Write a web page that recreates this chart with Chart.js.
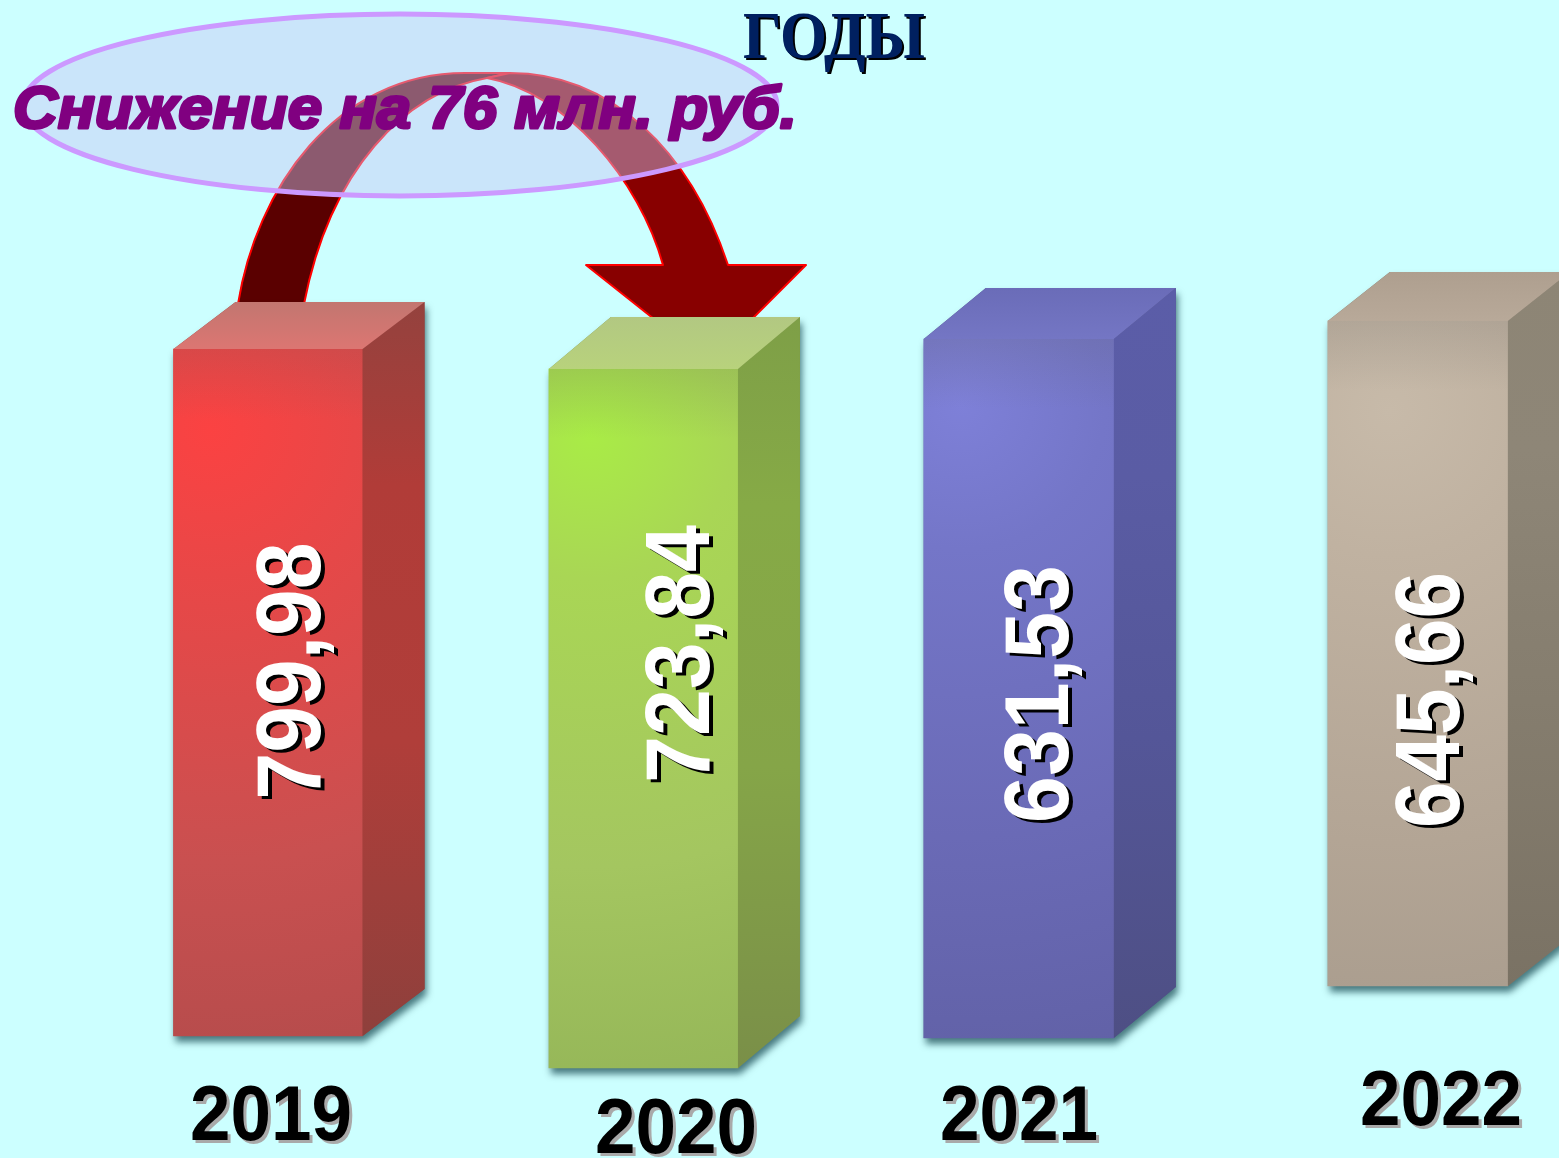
<!DOCTYPE html>
<html lang="ru">
<head>
<meta charset="utf-8">
<title>Годы</title>
<style>html,body{margin:0;padding:0;background:#ccffff}canvas{display:block}</style>
<script src="https://cdn.jsdelivr.net/npm/chart.js@4"></script>
</head>
<body>
<canvas id="c" width="1559" height="1158"></canvas>
<script>
// Data
const years = ['2019', '2020', '2021', '2022'];
const printedValues = ['799,98', '723,84', '631,53', '645,66'];
// The source's column extents are not proportional to the printed values and
// stand on different floors, so they are kept as floating ranges on the axis.
const barBases = [0, -37.3, -2.3, 58.2];
const barTops = [799.98, 776.7, 811.6, 832.6];
const barSlots = [0, 1, 2, 3.063];
const chartTitle = 'ГОДЫ';
const noteText = 'Снижение на 76 млн. руб.';

// Styles
const frontWidths = [189, 189, 190, 180];
const depthX = 62;
const depthY = [47, 52, 51, 49];
const styles = [
  {hot:[-58,81], stops:['#fb4242','#e94747','#c95050','#ad4a4a'], side:['#94423e','#b13c38','#b03e3a','#8e403c'], top:['#dc7672','#c27670']},
  {hot:[-54,66], stops:['#a9ec46','#a9d655','#a4c660','#91b256'], side:['#7e9f47','#86aa46','#85a548','#7a8f48'], top:['#b8d27c','#b2c882']},
  {hot:[-58,66], stops:['#7e80d8','#7476c8','#6a6ab6','#5f5fa3'], side:['#5b5da8','#5a5ca4','#545698','#4e4f84'], top:['#7476c4','#6a6cb8']},
  {hot:[-28,90], stops:['#c7baa9','#c0b2a1','#b3a595','#a4988a'], side:['#8d8575','#8e8677','#857d6e','#7a7264'], top:['#b8a999','#ae9f8f']}
];
const valueLabelPos = [[288,671,257],[677,654,258],[1036,694,258],[1427,700,256]];
const yearLabelPos = [[190,1140,162],[595,1153,162],[940,1140,158],[1360,1125,162]];

function frontFill(ctx) {
  const i = ctx.dataIndex, chart = ctx.chart;
  if (i === undefined || !chart.scales.x) return styles[0].stops[1];
  const cx = chart.scales.x.getPixelForValue(barSlots[i]) + styles[i].hot[0];
  const cy = chart.scales.y.getPixelForValue(barTops[i]) + styles[i].hot[1];
  if (!Number.isFinite(cx) || !Number.isFinite(cy)) return styles[i].stops[1];
  const g = chart.ctx.createRadialGradient(cx, cy, 0, cx, cy, 720);
  const s = styles[i].stops;
  g.addColorStop(0, s[0]); g.addColorStop(.2, s[1]); g.addColorStop(.6, s[2]); g.addColorStop(1, s[3]);
  return g;
}

function geom(el, i) {
  const p = el.getProps(['x','y','base','width'], true);
  return {l:p.x - p.width/2, r:p.x + p.width/2, t:p.y, b:p.base, dy:depthY[i]};
}

function fitText(c, text, x, y, width, font, fill, shadow, ox, oy, strokeW) {
  c.save();
  c.font = font;
  c.textBaseline = 'alphabetic'; c.textAlign = 'left';
  const w = c.measureText(text).width;
  c.translate(x, y);
  c.scale(width / w, 1);
  c.shadowColor = shadow; c.shadowBlur = 0; c.shadowOffsetX = ox; c.shadowOffsetY = oy;
  c.fillStyle = fill;
  if (strokeW) {
    c.lineJoin = 'round'; c.lineWidth = strokeW; c.strokeStyle = fill;
    c.strokeText(text, 0, 0);
  }
  c.fillText(text, 0, 0);
  c.restore();
}

function drawArrow(c) {
  c.save();
  c.lineJoin = 'round'; c.strokeStyle = '#ff0000'; c.lineWidth = 2;
  // left, darker half
  c.beginPath();
  c.moveTo(238, 304);
  c.bezierCurveTo(256, 190, 335, 73, 465, 73);
  c.lineTo(510, 73);
  c.lineTo(487, 78);
  c.bezierCurveTo(405, 92, 330, 170, 304, 304);
  c.closePath();
  c.fillStyle = '#5a0000'; c.fill(); c.stroke();
  // right half with head
  c.beginPath();
  c.moveTo(487, 78);
  c.lineTo(510, 73);
  c.bezierCurveTo(610, 73, 690, 150, 728, 265);
  c.lineTo(806, 265); c.lineTo(752, 319); c.lineTo(654, 319); c.lineTo(586, 265);
  c.lineTo(663, 265);
  c.bezierCurveTo(640, 180, 565, 92, 487, 78);
  c.closePath();
  c.fillStyle = '#880000'; c.fill(); c.stroke();
  c.restore();
}

function drawEllipse(c) {
  c.save();
  c.beginPath();
  c.ellipse(400, 105, 377, 91, 0, 0, Math.PI * 2);
  c.fillStyle = 'rgba(200,198,245,0.456)';
  c.fill();
  c.lineWidth = 5; c.strokeStyle = '#cc99ff';
  c.stroke();
  c.restore();
}

const extrude = {
  id: 'extrude',
  afterDatasetsUpdate(chart) {
    chart.getDatasetMeta(0).data.forEach((el, i) => { el.width = frontWidths[i]; });
  },
  beforeDatasetsDraw(chart) {
    const c = chart.ctx;
    drawArrow(c);
    drawEllipse(c);
    // soft shadow under each column
    chart.getDatasetMeta(0).data.forEach((el, i) => {
      const g = geom(el, i);
      c.save();
      c.shadowColor = 'rgba(0,50,60,.65)'; c.shadowBlur = 7; c.shadowOffsetX = 2; c.shadowOffsetY = 6;
      c.fillStyle = styles[i].side[3];
      c.beginPath();
      c.moveTo(g.l, g.b); c.lineTo(g.r, g.b); c.lineTo(g.r + depthX, g.b - g.dy);
      c.lineTo(g.r + depthX, g.t - g.dy); c.lineTo(g.l + depthX, g.t - g.dy); c.lineTo(g.l, g.t);
      c.closePath(); c.fill();
      c.restore();
    });
  },
  afterDatasetsDraw(chart) {
    const c = chart.ctx;
    chart.getDatasetMeta(0).data.forEach((el, i) => {
      const g = geom(el, i), st = styles[i];
      // dim the upper band of the front face
      const band = c.createLinearGradient(0, g.t, 0, g.t + 70);
      band.addColorStop(0, 'rgba(90,90,90,.16)'); band.addColorStop(1, 'rgba(90,90,90,0)');
      c.fillStyle = band; c.fillRect(g.l, g.t, g.r - g.l, 70);
      // side face
      const sg = c.createLinearGradient(0, g.t - g.dy, 0, g.b);
      sg.addColorStop(0, st.side[0]); sg.addColorStop(.25, st.side[1]); sg.addColorStop(.6, st.side[2]); sg.addColorStop(1, st.side[3]);
      c.fillStyle = sg;
      c.beginPath();
      c.moveTo(g.r, g.t); c.lineTo(g.r + depthX, g.t - g.dy); c.lineTo(g.r + depthX, g.b - g.dy); c.lineTo(g.r, g.b);
      c.closePath(); c.fill();
      // top face
      const tg = c.createLinearGradient(0, g.t, 0, g.t - g.dy);
      tg.addColorStop(0, st.top[0]); tg.addColorStop(1, st.top[1]);
      c.fillStyle = tg;
      c.beginPath();
      c.moveTo(g.l, g.t); c.lineTo(g.r, g.t); c.lineTo(g.r + depthX, g.t - g.dy); c.lineTo(g.l + depthX, g.t - g.dy);
      c.closePath(); c.fill();
      // value label, rotated
      const [vx, vy, vlen] = valueLabelPos[i];
      c.save();
      c.translate(vx, vy); c.rotate(-Math.PI / 2);
      c.font = 'bold 90px "Liberation Sans"';
      const w = c.measureText(printedValues[i]).width;
      c.scale(vlen / w, 1);
      c.textAlign = 'left'; c.textBaseline = 'alphabetic';
      c.shadowColor = '#000'; c.shadowBlur = 0; c.shadowOffsetX = 4; c.shadowOffsetY = 3;
      c.fillStyle = '#fff';
      c.fillText(printedValues[i], -w / 2, 32);
      c.restore();
      // year label
      const [yx, yy, ylen] = yearLabelPos[i];
      fitText(c, years[i], yx, yy, ylen, 'bold 77px "Liberation Sans"', '#000', '#a9a9a9', 3, 3);
    });
    fitText(c, chartTitle, 743, 58, 182, 'bold 68px "Liberation Serif"', '#002060', '#000', 2, 2);
    fitText(c, noteText, 13, 128, 784, 'bold italic 60px "Liberation Sans"', '#800080', 'rgba(0,0,0,0)', 0, 0, 3);
  }
};

new Chart(document.getElementById('c'), {
  type: 'bar',
  data: {
    labels: years,
    datasets: [{
      data: barSlots.map((s, i) => ({x: s, y: [barBases[i], barTops[i]]})),
      backgroundColor: frontFill,
      borderWidth: 0,
      barThickness: 189
    }]
  },
  options: {
    responsive: false,
    animation: false,
    layout: {padding: 0},
    plugins: {legend: {display: false}, title: {display: false}, tooltip: {enabled: false}},
    scales: {
      x: {type: 'linear', display: false, offset: false, min: -0.714, max: 3.439},
      y: {type: 'linear', display: false, min: -142.06, max: 1206.3}
    }
  },
  plugins: [extrude]
});
</script>
</body>
</html>
